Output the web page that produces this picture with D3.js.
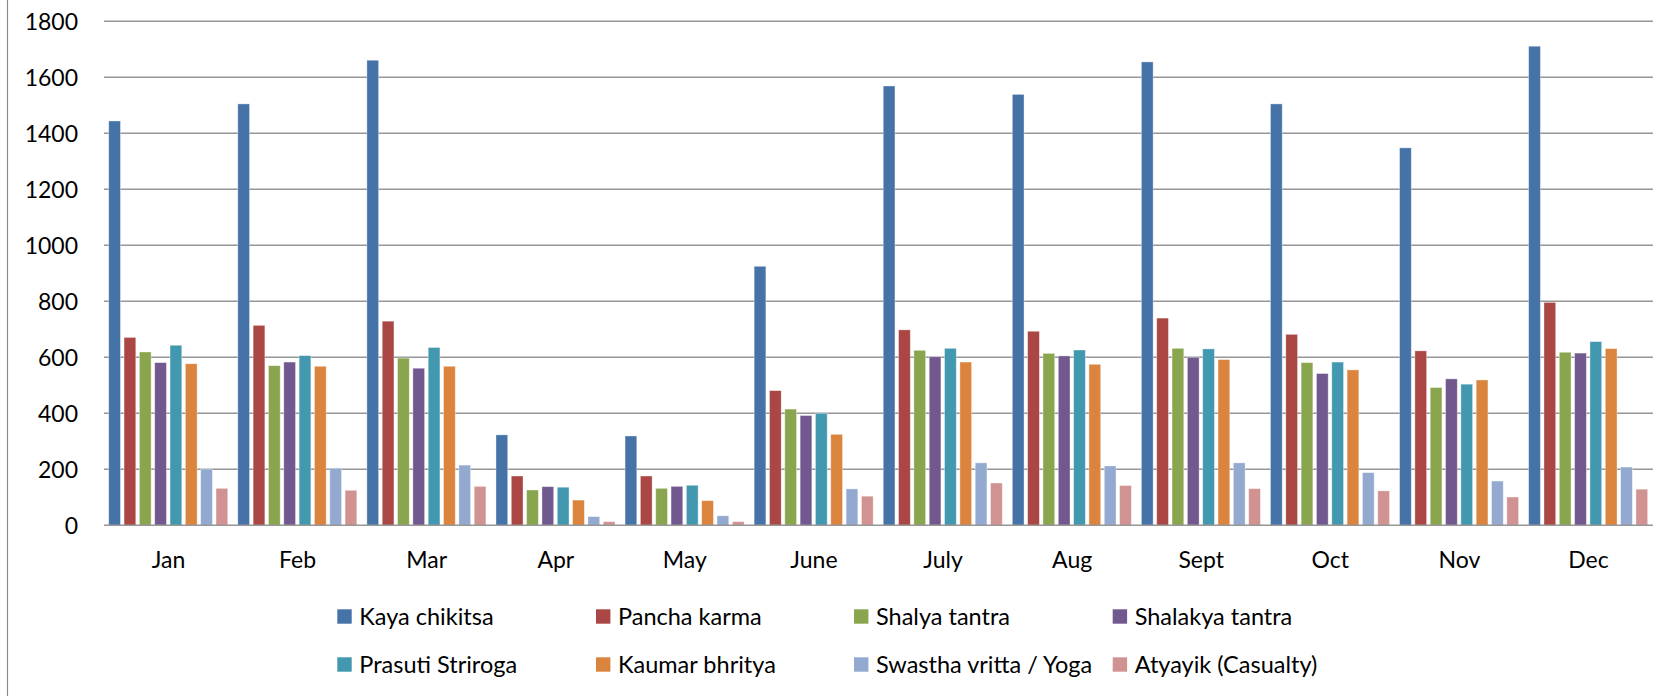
<!DOCTYPE html>
<html>
<head>
<meta charset="utf-8">
<script src="https://cdn.jsdelivr.net/npm/d3@7"></script>
<style>
  html, body { margin: 0; padding: 0; background: #ffffff; }
  svg { display: block; }
  text { font-family: Lato, "Liberation Sans", sans-serif; fill: #000; }
</style>
</head>
<body>
<svg id="chart" width="1659" height="696"></svg>
<script>
// ---- Data ----
const months = ["Jan", "Feb", "Mar", "Apr", "May", "June", "July", "Aug", "Sept", "Oct", "Nov", "Dec"];
const seriesNames = ["Kaya chikitsa", "Pancha karma", "Shalya tantra", "Shalakya tantra",
                     "Prasuti Striroga", "Kaumar bhritya", "Swastha vritta / Yoga", "Atyayik (Casualty)"];
const kayaChikitsa    = [1444, 1505, 1661, 323, 319, 925, 1569, 1539, 1655, 1505, 1348, 1711];
const panchaKarma     = [671, 714, 729, 176, 176, 481, 698, 693, 740, 682, 623, 796];
const shalyaTantra    = [619, 570, 597, 126, 132, 415, 625, 614, 632, 581, 492, 618];
const shalakyaTantra  = [581, 583, 561, 138, 139, 392, 602, 605, 600, 542, 523, 615];
const prasutiStriroga = [643, 606, 635, 136, 143, 400, 632, 626, 630, 583, 504, 656];
const kaumarBhritya   = [577, 568, 568, 90, 88, 325, 583, 575, 592, 555, 519, 631];
const swasthaVritta   = [201, 204, 215, 31, 34, 130, 223, 212, 223, 188, 158, 208];
const atyayik         = [132, 125, 139, 13, 13, 104, 151, 142, 131, 123, 101, 129];
const yTicks = [0, 200, 400, 600, 800, 1000, 1200, 1400, 1600, 1800];

const seriesValues = [kayaChikitsa, panchaKarma, shalyaTantra, shalakyaTantra,
                      prasutiStriroga, kaumarBhritya, swasthaVritta, atyayik];
const colors = ["#4572A7", "#AA4643", "#89A54E", "#71588F", "#4198AF", "#DB843D", "#93A9CF", "#D19392"];

// ---- Layout ----
const svg = d3.select("#chart");
const plot = { left: 104, right: 1653, top: 21.3, bottom: 525.3 };

const x0 = d3.scaleBand().domain(months).range([plot.left, plot.right])
  .paddingInner(0.05).paddingOuter(0.025);
const x1 = d3.scaleBand().domain(d3.range(seriesNames.length)).range([0, x0.bandwidth()]);
const y = d3.scaleLinear().domain([0, 1800]).range([plot.bottom, plot.top]);

// outer left border
svg.append("line").attr("x1", 7.5).attr("x2", 7.5).attr("y1", 0).attr("y2", 696)
  .attr("stroke", "#8a8a8a").attr("stroke-width", 1.2);

// gridlines
svg.append("g").selectAll("line").data(yTicks.filter(d => d > 0)).join("line")
  .attr("x1", plot.left).attr("x2", plot.right)
  .attr("y1", d => y(d)).attr("y2", d => y(d))
  .attr("stroke", "#969696").attr("stroke-width", 1.4);

// y axis labels
const yAxis = d3.axisLeft(y).tickValues(yTicks).tickSize(0).tickPadding(0).tickFormat(d3.format("d"));
const gy = svg.append("g").attr("transform", `translate(78,0)`).call(yAxis);
gy.select(".domain").remove();
gy.selectAll("text").attr("font-size", 23).attr("font-family", "Lato, sans-serif")
  .attr("fill", "#000").attr("dy", "0.36em");

// bars
const groups = svg.append("g").selectAll("g").data(months).join("g")
  .attr("transform", d => `translate(${x0(d)},0)`);
groups.selectAll("rect")
  .data((m, mi) => seriesValues.map((vals, si) => ({ si, v: vals[mi] })))
  .join("rect")
  .attr("x", d => x1(d.si) + 1.5)
  .attr("width", x1.bandwidth() - 3.6)
  .attr("y", d => y(d.v))
  .attr("height", d => y(0) - y(d.v))
  .attr("fill", d => colors[d.si])
  .attr("stroke", "rgba(255,255,255,0.45)")
  .attr("stroke-width", 0.8);

// x axis line
svg.append("line").attr("x1", plot.left).attr("x2", plot.right)
  .attr("y1", y(0)).attr("y2", y(0))
  .attr("stroke", "#969696").attr("stroke-width", 1.6);

// x axis labels
const xAxis = d3.axisBottom(x0).tickSize(0).tickPadding(0);
const gx = svg.append("g").attr("transform", `translate(0,${y(0)})`).call(xAxis);
gx.select(".domain").remove();
gx.selectAll("text").attr("font-size", 23).attr("font-family", "Lato, sans-serif")
  .attr("fill", "#000").attr("dy", null).attr("y", 43);

// legend
const legendCols = [337.3, 596, 854, 1112.7];
const legendRows = [616.5, 664.5];
const legend = svg.append("g").selectAll("g").data(seriesNames).join("g")
  .attr("transform", (d, i) => `translate(${legendCols[i % 4]},${legendRows[Math.floor(i / 4)]})`);
legend.append("rect").attr("x", 0).attr("y", -7.2).attr("width", 14.4).attr("height", 14.4)
  .attr("fill", (d, i) => colors[i]);
legend.append("text").attr("x", 22).attr("y", 8.3).attr("font-size", 23.5)
  .text(d => d);
</script>
</body>
</html>
